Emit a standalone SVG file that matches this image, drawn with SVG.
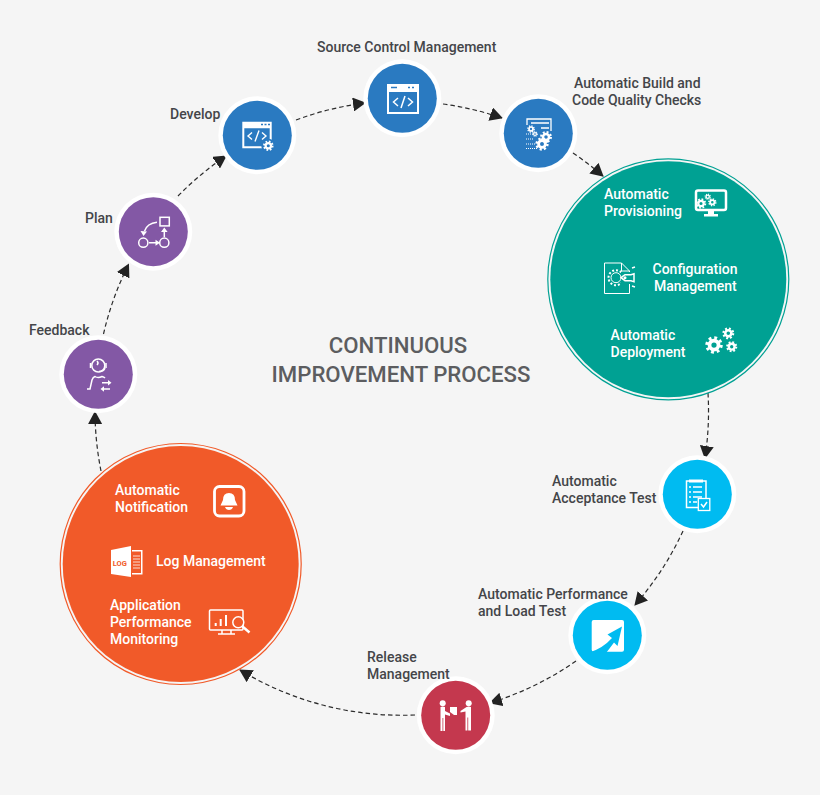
<svg xmlns="http://www.w3.org/2000/svg" width="820" height="795" viewBox="0 0 820 795">
<style>
text{font-family:Roboto,"Liberation Sans",sans-serif;font-weight:500;font-size:14px;fill:#444549}
.w{fill:#fff}
.t{font-size:22.2px;font-weight:500;fill:#5c5d60;text-anchor:middle}
.ring{fill:#fff}
.blue{fill:#2a7ac1}.pur{fill:#8358a5}.cy{fill:#00bbf1}.red{fill:#c4384e}
.ic{fill:none;stroke:#fff;stroke-width:2}
.th{fill:none;stroke:#fff;stroke-width:1.500}
.f{fill:#fff}
.con{fill:none;stroke:#2b2b2b;stroke-width:1.200;stroke-dasharray:4.500 3;marker-end:url(#ah)}
</style>
<defs>
<marker id="ah" viewBox="0 0 13 14" refX="12" refY="7" markerWidth="13" markerHeight="14" markerUnits="userSpaceOnUse" orient="auto"><path d="M0 0L13 7L0 14Z" fill="#222"/></marker>
<g id="gear"><circle r="3.600" fill="none" stroke="#fff" stroke-width="3"/><circle r="5.700" fill="none" stroke="#fff" stroke-width="2.600" stroke-dasharray="2.240 2.240"/></g>
</defs>
<rect width="820" height="795" fill="#f5f5f5"/>
<g id="connectors">
<path class="con" d="M103.500 334A312 312 0 0 1 128.500 264.500"/>
<path class="con" d="M178 196A312 312 0 0 1 226 156"/>
<path class="con" d="M296 120A312 312 0 0 1 365 103"/>
<path class="con" d="M443 104A312 312 0 0 1 502 118"/>
<path class="con" d="M573 153A312 312 0 0 1 603 176"/>
<path class="con" d="M708 393A312 312 0 0 1 705 458"/>
<path class="con" d="M683 531A312 312 0 0 1 635 605"/>
<path class="con" d="M576 661A312 312 0 0 1 490 703"/>
<path class="con" d="M415 715A312 312 0 0 1 240 670"/>
<path class="con" d="M101 471A312 312 0 0 1 95 412"/>
</g>
<text class="t" x="398" y="353">CONTINUOUS</text>
<text class="t" x="401" y="382">IMPROVEMENT PROCESS</text>
<g id="feedback"><circle class="ring" cx="98.300" cy="374.300" r="39"/><circle class="pur" cx="98.300" cy="374.300" r="34.500"/>
<circle class="th" cx="98.300" cy="365.500" r="6.500"/><path class="th" d="M90.500 363v5M106 363v5M105 368q-1 3.500-6 3.500M87 389h3l2-9q1-3 3-3.500q3 2 7 0q2 .5 3 1.500M102 382.700h8M102 389h8M97 361q2 2 0 4"/>
<path class="f" d="M108 380l3.500 2.700-3.500 2.700zM104 386.300l-3.500 2.700 3.500 2.700z"/>
<text x="29" y="335">Feedback</text></g>
<g id="plan"><circle class="ring" cx="153.300" cy="231.700" r="39"/><circle class="pur" cx="153.300" cy="231.700" r="34.500"/>
<rect class="th" x="160" y="217.300" width="9.300" height="8.600"/><circle class="th" cx="143.300" cy="242.700" r="4.600"/><circle class="th" cx="164.300" cy="242.700" r="4.600"/>
<path class="th" d="M149 242.700h7M164.300 237v-6M157 222.300q-10 1-12.500 9"/><path class="f" d="M155.500 239.700l4.500 3-4.500 3zM161 232l3.300-4.500 3.300 4.500zM140.500 231l6.500.5-3.500 4.500z"/>
<text x="85" y="223">Plan</text></g>
<g id="develop"><circle class="ring" cx="257.300" cy="135.300" r="39"/><circle class="blue" cx="257.300" cy="135.300" r="34.500"/>
<path class="f" d="M242.300 121.700h29.400v20h-2v-13.500h-25.400v18h18v2h-20z"/>
<path d="M261 124.500h2M264.500 124.500h2M268 124.500h2" stroke="#2a7ac1" stroke-width="1.500"/>
<path class="ic" style="stroke-width:1.400" d="M252 132.500l-4 3.500 4 3.500M262 132.500l4 3.500-4 3.500M259 130.500l-4 11"/>
<circle cx="268.300" cy="145.700" r="7" fill="#2a7ac1"/><use href="#gear" transform="translate(268.300 145.700) scale(.75)"/>
<text x="170" y="119">Develop</text></g>
<g id="source"><circle class="ring" cx="402.300" cy="98.300" r="39"/><circle class="blue" cx="402.300" cy="98.300" r="34.500"/>
<path class="f" fill-rule="evenodd" d="M387 84h32v30h-32zM389 92v20h28V92z"/><path d="M391 87.500h6M408 87.500h2M412 87.500h2" stroke="#2a7ac1" stroke-width="1.500"/>
<path class="ic" style="stroke-width:1.500" d="M398 98l-4.500 4 4.500 4M408 98l4.500 4-4.500 4M405 96l-4 12"/>
<text x="317" y="52">Source Control Management</text></g>
<g id="build"><circle class="ring" cx="538.300" cy="133.300" r="39"/><circle class="blue" cx="538.300" cy="133.300" r="34.500"/>
<path class="ic" style="stroke-width:1.300" d="M527 125v-6h24v12M531 123h18M541 128h8"/>
<use href="#gear" transform="translate(531 129) scale(.55)"/><use href="#gear" transform="translate(535 134) scale(.4)"/>
<use href="#gear" transform="translate(546 137) scale(.85)"/><use href="#gear" transform="translate(542 144) scale(.95)"/>
<path class="th" style="stroke-width:1;stroke-dasharray:1 1" d="M526 134h7M526 139h8M526 144h9M526 148.500h11"/>
<text x="574" y="88">Automatic Build and</text><text x="572" y="105">Code Quality Checks</text></g>
<g id="green"><circle cx="668.300" cy="279.300" r="120.500" fill="none" stroke="#00a193" stroke-width="1.200"/><circle cx="668.300" cy="279.300" r="118" fill="#00a193"/>
<text class="w" x="604" y="199">Automatic</text><text class="w" x="604" y="216">Provisioning</text>
<rect x="696" y="190.500" width="30" height="19.500" rx="2" fill="none" stroke="#fff" stroke-width="2.500"/><path class="f" d="M708 210h6v4h4v2.500h-14v-2.500h4z"/>
<use href="#gear" transform="translate(701 203.500) scale(.75)"/><use href="#gear" transform="translate(707.700 196.700) scale(.45)"/><use href="#gear" transform="translate(712.300 202.300) scale(.6)"/>
<path class="th" style="stroke-width:1" d="M604.500 263h17l8 8v22.500h-25zM621.500 263v8h8"/>
<circle class="th" style="stroke-width:1" cx="616" cy="277.700" r="5"/><circle cx="616" cy="277.700" r="7.500" fill="none" stroke="#fff" stroke-width="2" stroke-dasharray="2 1.900"/><rect x="621" y="272" width="13" height="12" fill="#00a193"/>
<path class="th" d="M621 277.700l4-3h6l3-1v8l-3-1h-6zM632 268l3-1M632 286l3 1"/><circle class="f" cx="625" cy="277.700" r="1.500"/>
<text class="w" x="652.500" y="274">Configuration</text><text class="w" x="654" y="291">Management</text>
<text class="w" x="610.500" y="340">Automatic</text><text class="w" x="610.500" y="357">Deployment</text>
<use href="#gear" transform="translate(714 345) scale(1.250)"/><use href="#gear" transform="translate(728.300 333.300) scale(.85)"/><use href="#gear" transform="translate(731.700 346.700) scale(.8)"/></g>
<g id="acceptance"><circle class="ring" cx="697.300" cy="494.300" r="39"/><circle class="cy" cx="697.300" cy="494.300" r="34.500"/>
<rect x="686.500" y="481" width="19.500" height="26.500" class="th"/><path class="f" d="M689 479.500h14v3h-14z"/><path class="th" d="M693 487h9M693 492h9M693 497h9M693 502h4M689 487h2M689 492h2M689 497h2M689 502h2"/>
<rect x="698.300" y="498.500" width="11.500" height="12" fill="#00bbf1" stroke="#fff" stroke-width="1.300"/><path class="ic" style="stroke-width:1.500" d="M701 504l2.500 3 3.500-5"/>
<text x="552" y="486">Automatic</text><text x="552" y="503">Acceptance Test</text></g>
<g id="performance"><circle class="ring" cx="607.300" cy="635.300" r="39"/><circle class="cy" cx="607.300" cy="635.300" r="34.500"/>
<rect class="f" x="591.700" y="620" width="32.300" height="31.700" rx="2"/>
<path class="cy" d="M590.500 652Q603 648 612 638L607.500 634.500L622 626.500L617.500 646L614 642.500Q610 648 606 653Z"/>
<text x="478" y="599">Automatic Performance</text><text x="478" y="616">and Load Test</text></g>
<g id="release"><circle class="ring" cx="455.700" cy="715.300" r="39"/><circle class="red" cx="455.700" cy="715.300" r="34.500"/>
<circle class="f" cx="442.700" cy="703.300" r="3"/><circle class="f" cx="468.700" cy="703.300" r="3"/>
<path class="f" d="M440.500 707q2.200-1 4.500 0v4l5 2.500v2.500l-5-1.500v16.500h-1.700v-13h-.8v13h-2zM471 707q-2.200-1-4.500 0l-6 4v1.500l5-1v19h1.900v-13h.8v13h2.800z"/><path class="f" d="M450 707h7v8h-3l-4-3z"/>
<text x="367" y="662">Release</text><text x="367" y="679">Management</text></g>
<g id="orange"><circle cx="180.700" cy="564" r="120.500" fill="none" stroke="#f15a29" stroke-width="1.200"/><circle cx="180.700" cy="564" r="118" fill="#f15a29"/>
<text class="w" x="115" y="495">Automatic</text><text class="w" x="115" y="512">Notification</text>
<rect x="214.500" y="486.500" width="29.500" height="29.500" rx="5" fill="none" stroke="#fff" stroke-width="2.800"/><path class="f" d="M229 493q-6 0-6 7l-2.500 5.500h17l-2.500-5.500q0-7-6-7zM225 507h8q-1 3-4 3t-4-3z"/>
<path class="f" d="M111 550l20-4v31l-20-3z"/><path class="f" d="M132 550h10.500v24.500h-10.500v-1.500h9v-21.500h-9z"/><path class="th" style="stroke-width:.8" d="M133 556h7M133 559h7M133 562h7M133 565h7M133 568h7"/><text x="112.700" y="565.500" style="font-size:7.500px;font-weight:700;fill:#f15a29">LOG</text>
<text class="w" x="156" y="566">Log Management</text>
<text class="w" x="110" y="610">Application</text><text class="w" x="110" y="627">Performance</text><text class="w" x="110" y="644">Monitoring</text>
<rect x="209.500" y="610" width="33.500" height="20" rx="1" class="th"/><path class="th" d="M222 630v3.500M231 630v3.500M218 634h17"/><path class="ic" d="M215.700 626v-3M220.700 626v-7M226 626v-11"/>
<circle cx="238.300" cy="622.300" r="5.500" fill="#f15a29" stroke="#fff" stroke-width="1.500"/><path class="ic" style="stroke-width:2.500" d="M242.500 626.500l7 6"/></g>
</svg>
